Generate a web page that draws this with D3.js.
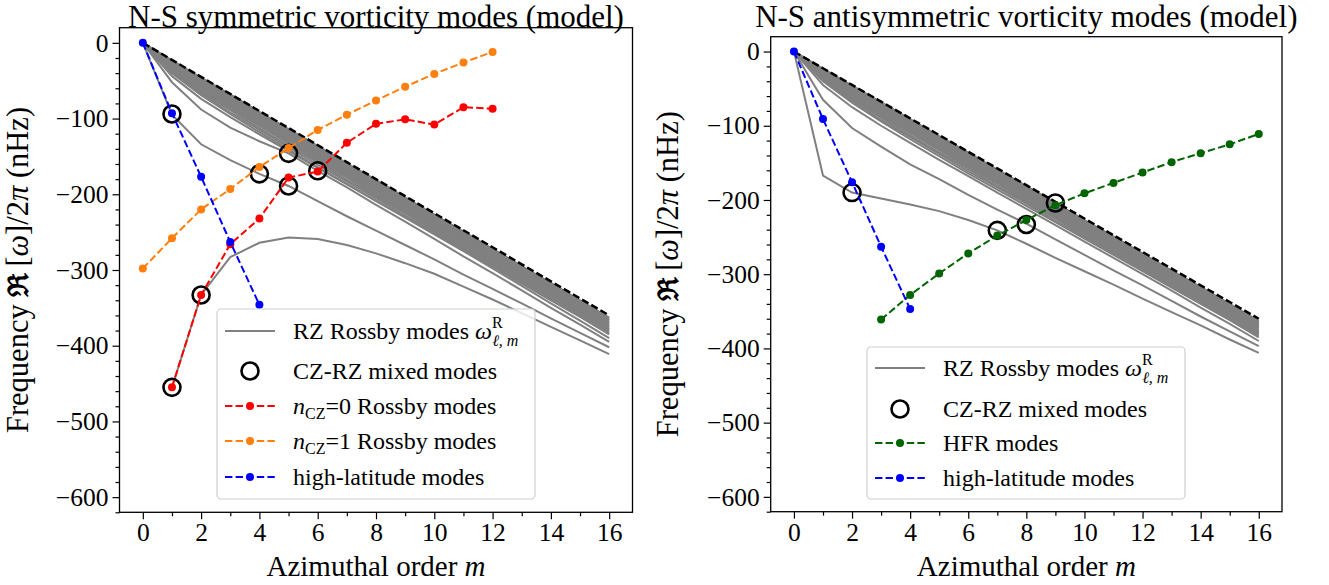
<!DOCTYPE html>
<html><head><meta charset="utf-8">
<script src="https://cdn.jsdelivr.net/npm/d3@7"></script>
<style>
body{margin:0;background:#fff}
text{font-family:'Liberation Serif','Times New Roman',serif;fill:#000}
</style>
</head><body>
<svg id="c" width="1329" height="585"></svg>
<script>
// ---------- data ----------
const mAll = [0,1,2,3,4,5,6,7,8,9,10,11,12,13,14,15,16];
const xTicks = [0,2,4,6,8,10,12,14,16];
const yTicks = [0,-100,-200,-300,-400,-500,-600];

// sectoral limit (black dashed)
const limitLine = [0,-22.5,-45,-67.5,-90,-112.5,-135,-157.5,-180,-202.5,-225,-247.5,-270,-292.5,-315,-337.5,-360];

// tightly packed RZ Rossby lines near the limit
const band1  = [0,-23,-46,-68,-91,-114,-136,-159,-181,-204,-227,-249,-272,-295,-317,-340,-363];
const band1b = [0,-24,-47,-69,-92,-115,-137,-160,-183,-205,-228,-251,-273,-296,-319,-341,-364];
const band2  = [0,-25,-48,-71,-94,-117,-139,-162,-185,-207,-230,-253,-275,-298,-321,-343,-366];
const band2b = [0,-26,-50,-73,-95,-118,-141,-163,-186,-209,-231,-254,-277,-299,-322,-345,-367];
const band3  = [0,-27,-51,-74,-97,-120,-142,-165,-188,-210,-233,-256,-278,-301,-324,-346,-369];
const band3b = [0,-28,-53,-76,-99,-121,-144,-167,-189,-212,-235,-257,-280,-302,-325,-348,-370];
const band4  = [0,-29,-54,-77,-100,-123,-146,-168,-191,-214,-236,-259,-281,-304,-327,-349,-372];
const band4b = [0,-30,-56,-79,-102,-125,-148,-170,-193,-215,-238,-260,-283,-305,-328,-350,-373];
const band5  = [0,-31,-57,-81,-104,-127,-150,-172,-195,-217,-240,-262,-285,-307,-330,-352,-375];
const band5b = [0,-32,-59,-83,-106,-129,-152,-174,-197,-219,-242,-264,-286,-309,-331,-354,-376];
const band6  = [0,-34,-61,-85,-108,-131,-154,-176,-199,-221,-244,-266,-288,-310,-333,-355,-378];
const band6b = [0,-35,-63,-87,-110,-133,-156,-178,-201,-223,-246,-268,-290,-312,-334,-357,-379];
const band7  = [0,-37,-65,-89,-113,-136,-158,-181,-203,-225,-248,-270,-292,-314,-336,-359,-381];
const band7b = [0,-38,-67,-92,-115,-138,-161,-183,-205,-228,-250,-272,-294,-316,-338,-360,-383];
const band8  = [0,-40,-69,-94,-118,-141,-164,-186,-208,-230,-252,-274,-296,-318,-340,-362,-385];

// symmetric panel: separated RZ lines
const symRZa = [null,-455,-333,-283,-264,-257,-259,-267,-278,-291,-305,-322,-339,-357,-375,-393,-411];
const symRZb = [0,-95,-134,-155,-173,-189,-209,-229,-248,-267,-286,-306,-325,-344,-364,-383,-402];
const symRZc = [0,-52,-88,-112,-130,-146,-169,-191,-214,-236,-259,-282,-304,-327,-350,-372,-395];
const symRZd = [0,-44,-74,-98,-121,-143,-165,-187,-209,-231,-253,-275,-298,-321,-344,-367,-390];

// symmetric panel: mixed modes (m, freq)
const symMixedM = [1,1,2,4,5,5,6];
const symMixedV = [-94,-455,-333,-173,-146,-189,-169];

// symmetric panel: mode branches
const nCZ0M = [1,2,3,4,5,6,7,8,9,10,11,12];
const nCZ0V = [-455,-333,-266,-232,-178,-170,-132,-107,-101,-108,-85,-87];
const nCZ1M = [0,1,2,3,4,5,6,7,8,9,10,11,12];
const nCZ1V = [-298,-258,-220,-193,-164,-139,-115,-95,-76,-58,-41,-26,-12];
const hiLatSymM = [0,1,2,3,4];
const hiLatSymV = [0,-93,-177,-263,-346];

// antisymmetric panel: separated RZ lines
const antiRZa = [0,-167,-190,-198,-206,-215,-227,-241,-259,-278,-296,-314,-333,-351,-369,-388,-406];
const antiRZb = [0,-65,-103,-128,-152,-172,-193,-213,-232,-253,-274,-295,-315,-336,-357,-377,-397];
const antiRZc = [0,-45,-75,-100,-123,-146,-168,-190,-212,-234,-256,-278,-300,-322,-345,-367,-390];

const antiMixedM = [2,7,8,9];
const antiMixedV = [-190,-241,-233,-204];

const hfrM = [3,4,5,6,7,8,9,10,11,12,13,14,15,16];
const hfrV = [-361,-328,-299,-272,-248,-227,-207,-191,-177,-163,-149,-137,-125,-111];
const hiLatAntiM = [0,1,2,3,4];
const hiLatAntiV = [0,-91,-176,-263,-347];

const bandLines = [band1,band1b,band2,band2b,band3,band3b,band4,band4b,band5,band5b,band6,band6b,band7,band7b,band8];

// ---------- drawing ----------
const svg = d3.select("#c");
const FONT = "'Liberation Serif','Times New Roman',serif";

function fmt(d){ return d < 0 ? "\u2212" + (-d) : String(d); }

function panel(cfg){
  const x = d3.scaleLinear().domain([-0.8,16.8]).range([cfg.left, cfg.right]);
  const y = d3.scaleLinear().domain([20,-620]).range([cfg.top, cfg.bottom]);
  const g = svg.append("g");
  const cid = "clip" + cfg.id;
  svg.append("clipPath").attr("id", cid).append("rect")
    .attr("x", cfg.left).attr("y", cfg.top).attr("width", cfg.right-cfg.left).attr("height", cfg.bottom-cfg.top);
  const plot = g.append("g").attr("clip-path", `url(#${cid})`);

  const line = d3.line().defined(d => d[1] !== null).x(d => x(d[0])).y(d => y(d[1]));
  const pairs = (ms, vs) => ms.map((m,i) => [m, vs[i]]);

  cfg.gray.forEach(arr => {
    plot.append("path").attr("d", line(pairs(mAll, arr)))
      .attr("fill","none").attr("stroke","#808080").attr("stroke-width",2);
  });
  plot.append("path").attr("d", line(pairs(mAll, limitLine)))
    .attr("fill","none").attr("stroke","#000").attr("stroke-width",2.5).attr("stroke-dasharray","7.4,3.2");

  plot.selectAll(null).data(pairs(cfg.mixedM, cfg.mixedV)).enter().append("circle")
    .attr("cx", d => x(d[0])).attr("cy", d => y(d[1])).attr("r", 8.5)
    .attr("fill","none").attr("stroke","#000").attr("stroke-width",2.6);

  cfg.series.forEach(s => {
    const p = pairs(s.m, s.v);
    plot.append("path").attr("d", line(p)).attr("fill","none").attr("stroke", s.color)
      .attr("stroke-width",2).attr("stroke-dasharray","7.4,3.2");
    plot.selectAll(null).data(p).enter().append("circle")
      .attr("cx", d => x(d[0])).attr("cy", d => y(d[1])).attr("r", 4).attr("fill", s.color);
  });

  // axes
  g.append("g").attr("transform", `translate(0,${cfg.bottom})`)
    .call(d3.axisBottom(x).tickValues(xTicks).tickSize(7).tickPadding(4).tickFormat(fmt));
  g.append("g").attr("transform", `translate(0,${cfg.bottom})`)
    .call(d3.axisBottom(x).tickValues([1,3,5,7,9,11,13,15]).tickSize(4).tickFormat(""));
  g.append("g").attr("transform", `translate(${cfg.left},0)`)
    .call(d3.axisLeft(y).tickValues(yTicks).tickSize(7).tickPadding(4).tickFormat(fmt));
  const minorY = [];
  for (let v = -20; v >= -620; v -= 20) if (v % 100 !== 0) minorY.push(v);
  g.append("g").attr("transform", `translate(${cfg.left},0)`)
    .call(d3.axisLeft(y).tickValues(minorY).tickSize(4).tickFormat(""));
  g.selectAll(".tick text").attr("font-size", 25.5).attr("font-family", FONT).attr("fill","#000");
  g.selectAll(".tick line").attr("stroke","#000").attr("stroke-width",1.2);
  g.selectAll(".domain").remove();
  g.append("rect").attr("x", cfg.left).attr("y", cfg.top)
    .attr("width", cfg.right-cfg.left).attr("height", cfg.bottom-cfg.top)
    .attr("fill","none").attr("stroke","#000").attr("stroke-width",1.3);

  // title
  g.append("text").attr("x", (cfg.left+cfg.right)/2).attr("y", 27).attr("text-anchor","middle")
    .attr("font-size", 31).text(cfg.title);
  // x label
  const xl = g.append("text").attr("x", (cfg.left+cfg.right)/2).attr("y", 576).attr("text-anchor","middle")
    .attr("font-size", 29);
  xl.append("tspan").text("Azimuthal order ");
  xl.append("tspan").attr("font-style","italic").text("m");
  // y label
  const cy = (cfg.top+cfg.bottom)/2;
  const yl = g.append("text").attr("transform", `translate(${cfg.ylabX},${cy}) rotate(-90)`)
    .attr("text-anchor","middle").attr("font-size", 30.5);
  yl.append("tspan").text("Frequency ");
  yl.append("tspan").attr("font-weight","bold").attr("font-family","'DejaVu Serif',serif").attr("font-size",28).text("\u211C");
  yl.append("tspan").text("\u2009[");
  yl.append("tspan").attr("font-style","italic").text("\u03C9");
  yl.append("tspan").text("]/2");
  yl.append("tspan").attr("font-style","italic").text("\u03C0");
  yl.append("tspan").text(" (nHz)");

  // legend
  const L = cfg.legend;
  const lg = g.append("g");
  lg.append("rect").attr("x", L.x).attr("y", L.y).attr("width", L.w).attr("height", L.h)
    .attr("rx", 4).attr("fill","#fff").attr("fill-opacity",0.8).attr("stroke","#d0d0d0").attr("stroke-width",1.2);
  const sx0 = L.x + 8, sx1 = L.x + 58, tx = L.x + 76;
  L.items.forEach((it, i) => {
    const ry = L.rows[i];
    if (it.type === "gray") {
      lg.append("line").attr("x1", sx0).attr("x2", sx1).attr("y1", ry).attr("y2", ry)
        .attr("stroke","#808080").attr("stroke-width",2);
    } else if (it.type === "circle") {
      lg.append("circle").attr("cx", (sx0+sx1)/2).attr("cy", ry).attr("r", 8.5)
        .attr("fill","none").attr("stroke","#000").attr("stroke-width",2.6);
    } else {
      lg.append("line").attr("x1", sx0).attr("x2", sx1).attr("y1", ry).attr("y2", ry)
        .attr("stroke", it.color).attr("stroke-width",2).attr("stroke-dasharray","7.4,3.2");
      lg.append("circle").attr("cx", (sx0+sx1)/2).attr("cy", ry).attr("r", 4).attr("fill", it.color);
    }
    const t = lg.append("text").attr("x", tx).attr("y", ry + 8).attr("font-size", 24);
    it.label(t);
  });
}

const lblRZ = t => {
  t.append("tspan").text("RZ Rossby modes ");
  t.append("tspan").attr("font-style","italic").text("\u03C9");
  t.append("tspan").attr("font-size",16).attr("dy",-11).text("R");
  t.append("tspan").attr("font-size",16).attr("font-style","italic").attr("dx",-10.5).attr("dy",18).text("\u2113, m");
};
const lblMixed = t => t.text("CZ-RZ mixed modes");
const lblN = n => t => {
  t.append("tspan").attr("font-style","italic").text("n");
  t.append("tspan").attr("font-size",16).attr("dy",5).text("CZ");
  t.append("tspan").attr("dy",-5).text("=" + n + " Rossby modes");
};
const lblHi = t => t.text("high-latitude modes");
const lblHFR = t => t.text("HFR modes");

panel({
  id: "L", left: 119.5, right: 632.5, top: 27.7, bottom: 512.3, ylabX: 28,
  title: "N-S symmetric vorticity modes (model)",
  gray: bandLines.concat([symRZd,symRZc,symRZb,symRZa]),
  mixedM: symMixedM, mixedV: symMixedV,
  series: [
    {m: nCZ0M, v: nCZ0V, color: "#ff0000"},
    {m: nCZ1M, v: nCZ1V, color: "#ff7f0e"},
    {m: hiLatSymM, v: hiLatSymV, color: "#0000ff"}
  ],
  legend: {x: 217, y: 309, w: 318, h: 190, rows: [331, 371, 406, 441, 477],
    items: [
      {type:"gray", label: lblRZ},
      {type:"circle", label: lblMixed},
      {type:"dash", color:"#ff0000", label: lblN(0)},
      {type:"dash", color:"#ff7f0e", label: lblN(1)},
      {type:"dash", color:"#0000ff", label: lblHi}
    ]}
});

panel({
  id: "R", left: 770.7, right: 1282, top: 36.7, bottom: 511.7, ylabX: 678,
  title: "N-S antisymmetric vorticity modes (model)",
  gray: bandLines.concat([antiRZc,antiRZb,antiRZa]),
  mixedM: antiMixedM, mixedV: antiMixedV,
  series: [
    {m: hfrM, v: hfrV, color: "#006400"},
    {m: hiLatAntiM, v: hiLatAntiV, color: "#0000ff"}
  ],
  legend: {x: 867, y: 347, w: 318, h: 152, rows: [368, 409, 443, 478],
    items: [
      {type:"gray", label: lblRZ},
      {type:"circle", label: lblMixed},
      {type:"dash", color:"#006400", label: lblHFR},
      {type:"dash", color:"#0000ff", label: lblHi}
    ]}
});
</script>
</body></html>
